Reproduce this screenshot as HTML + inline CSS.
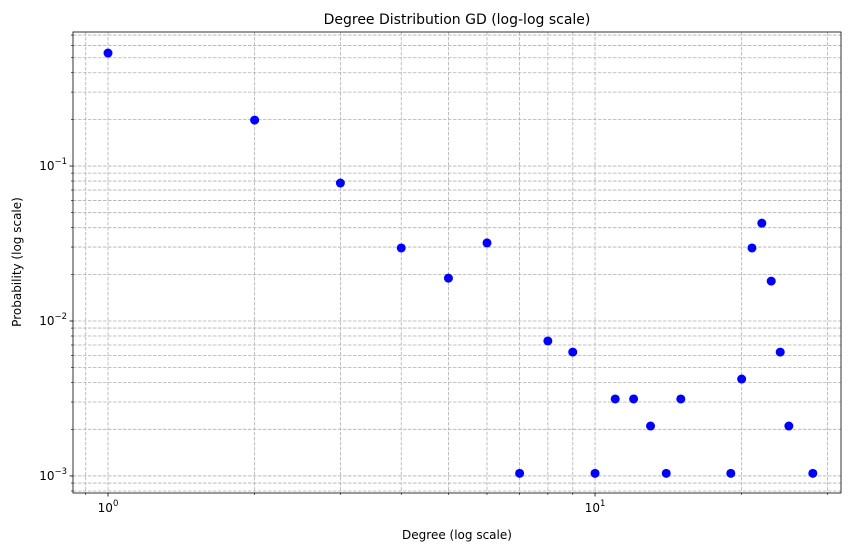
<!DOCTYPE html>
<html><head><meta charset="utf-8"><style>
body{margin:0;background:#fff;}
svg{display:block;font-family:"DejaVu Sans","Liberation Sans",sans-serif;}
</style></head><body>
<svg id="chart" width="857" height="552" viewBox="0 0 857 552">
<text x="457" y="24" text-anchor="middle" font-size="14">Degree Distribution GD (log-log scale)</text>
<text x="457" y="539" text-anchor="middle" font-size="12">Degree (log scale)</text>
<text transform="translate(21,262) rotate(-90)" text-anchor="middle" font-size="12">Probability (log scale)</text>
<g id="grid"></g><g id="axes"></g><g id="points"></g>
</svg>
<script>
const degrees=[1,2,3,4,5,6,7,8,9,10,11,12,13,14,15,19,20,21,22,23,24,25,28];
const probs=[0.536,0.198,0.0777,0.0296,0.0189,0.0319,0.00104,0.00743,0.0063,0.00104,0.00314,0.00314,0.0021,0.00104,0.00314,0.00104,0.00422,0.0296,0.0428,0.0181,0.0063,0.0021,0.00104];
const xMajor=[1,10];
const yMajor=[0.1,0.01,0.001];
const yMajorExp=["-1","-2","-3"];
const xMajorExp=["0","1"];
const L=73,R=841,T=32,B=493;
const xmin=-0.0719,xmax=1.505,ymin=-3.11,ymax=-0.135;
const X=v=>L+(Math.log10(v)-xmin)/(xmax-xmin)*(R-L);
const Y=v=>B-(Math.log10(v)-ymin)/(ymax-ymin)*(B-T);
const NS="http://www.w3.org/2000/svg";
function mk(p,t,a){const e=document.createElementNS(NS,t);for(const k in a)e.setAttribute(k,a[k]);p.appendChild(e);return e;}
const grid=document.getElementById('grid'),axes=document.getElementById('axes'),pts=document.getElementById('points');
// x grid
for(let d=-1;d<=1;d++)for(let m=1;m<=9;m++){const v=m*Math.pow(10,d);const x=X(v);if(x<L||x>R)continue;
const g=mk(grid,'line',{x1:x,x2:x,y1:T,y2:B,stroke:'#b0b0b0','stroke-dasharray':'3.5,1.5','stroke-width':0.8});


mk(axes,'line',{x1:x,x2:x,y1:B,y2:B+(m==1?3.5:2),stroke:'#000','stroke-width':m==1?0.8:0.6});}
for(let d=-4;d<=0;d++)for(let m=1;m<=9;m++){const v=m*Math.pow(10,d);const y=Y(v);if(y<T||y>B)continue;
const g=mk(grid,'line',{x1:L,x2:R,y1:y,y2:y,stroke:'#b0b0b0','stroke-dasharray':'3.5,1.5','stroke-width':0.8});


mk(axes,'line',{x1:L,x2:L-(m==1?3.5:2),y1:y,y2:y,stroke:'#000','stroke-width':m==1?0.8:0.6});}
const fr=mk(axes,'rect',{x:L,y:T,width:R-L,height:B-T,fill:'none',stroke:'#000','stroke-width':0.8});


xMajor.forEach((v,i)=>{const t=mk(axes,'text',{x:X(v),y:B+19,'text-anchor':'middle','font-size':12});


t.innerHTML='10<tspan dy="-6" font-size="8.5">'+xMajorExp[i]+'</tspan>';});
yMajor.forEach((v,i)=>{const t=mk(axes,'text',{x:L-22,y:Y(v)+4,'text-anchor':'end','font-size':12});


t.innerHTML='10<tspan dy="-6" font-size="8.5">\u2212'+yMajorExp[i].slice(1)+'</tspan>';
t.setAttribute('x',L-6);});
degrees.forEach((d,i)=>{const c=mk(pts,'circle',{cx:X(d),cy:Y(probs[i]),r:4.5,fill:'#0000ff'});

});
</script>
</body></html>
